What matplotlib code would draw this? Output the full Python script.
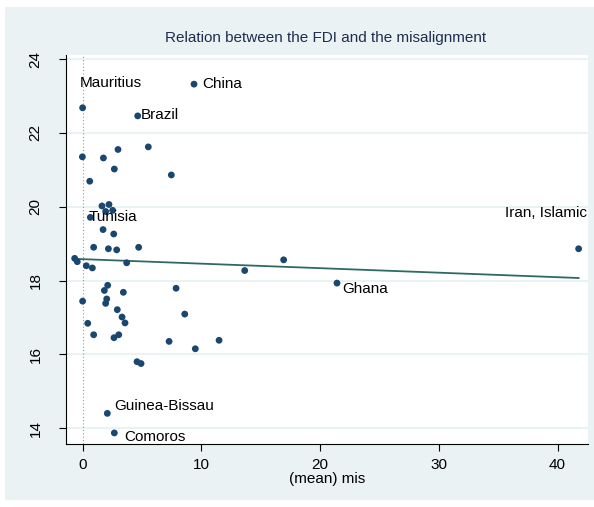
import numpy as np
import matplotlib.pyplot as plt
from matplotlib.patches import Rectangle

plt.rcParams["font.family"] = ["Liberation Sans", "DejaVu Sans"]

# (mean) misalignment and FDI
mis = [9.38, 0.0, 4.64, 5.53, 2.98, -0.02, 1.75, 2.67, 7.47, 0.6,
       1.63, 2.22, 1.94, 2.53, 0.65, 1.72, 2.62, 0.93, 2.17, 2.87,
       4.72, -0.67, -0.45, 0.31, 0.82, 3.71, 13.65, 2.11, 1.83, 7.87,
       3.43, 0.0, 2.03, 1.94, 2.92, 8.6, 3.32, 3.57, 0.43, 0.93,
       2.64, 3.04, 7.28, 9.49, 11.49, 4.58, 4.92, 2.08, 2.67, 16.93,
       21.42, 41.77]
fdi = [23.32, 22.68, 22.46, 21.62, 21.55, 21.35, 21.32, 21.02, 20.86, 20.69,
       20.02, 20.06, 19.87, 19.90, 19.71, 19.38, 19.26, 18.90, 18.86, 18.83,
       18.90, 18.60, 18.51, 18.40, 18.34, 18.48, 18.27, 17.87, 17.73, 17.79,
       17.68, 17.44, 17.50, 17.38, 17.21, 17.09, 17.01, 16.85, 16.84, 16.53,
       16.45, 16.53, 16.35, 16.15, 16.38, 15.80, 15.75, 14.40, 13.87, 18.56,
       17.93, 18.86]

# labelled countries: name, index of point, label offset (pt), alignment
labels = [
    ("China", 0, (6, 0), "left", "center"),
    ("Mauritius", 1, (-2, 18), "left", "center"),
    ("Brazil", 2, (2, 1), "left", "center"),
    ("Tunisia", 14, (-1, 0), "left", "center"),
    ("Iran, Islamic", 51, (6, 26), "right", "center"),
    ("Ghana", 50, (4, -4), "left", "center"),
    ("Guinea-Bissau", 47, (5, 5), "left", "center"),
    ("Comoros", 48, (7, -3), "left", "center"),
]

bg = "#eaf2f3"
navy = "#1a476f"
green = "#2d6b62"

fig = plt.figure(figsize=(5.94, 5.07), dpi=100, facecolor="white")
fig.patches.append(Rectangle((5 / 594, 7 / 507), 589 / 594, 493 / 507,
                             transform=fig.transFigure, facecolor=bg,
                             edgecolor="none", zorder=-10))
ax = fig.add_axes([66 / 594, 63 / 507, 522 / 594, 389 / 507])
ax.set_zorder(1)
ax.set_facecolor("white")

ax.set_xlim(-1.4, 42.56)
ax.set_ylim(13.57, 24.11)

ax.set_yticks([14, 16, 18, 20, 22, 24])
ax.set_xticks([0, 10, 20, 30, 40])
ax.grid(axis="y", color=bg, linewidth=1.5)
ax.set_axisbelow(True)

for s in ["top", "right"]:
    ax.spines[s].set_visible(False)
for s in ["left", "bottom"]:
    ax.spines[s].set_linewidth(0.8)

ax.tick_params(axis="both", direction="out", length=5, width=0.8,
               labelsize=11, colors="black")
ax.tick_params(axis="y", pad=12, labelrotation=90)
ax.tick_params(axis="x", pad=5)
plt.setp(ax.get_yticklabels(), ha="right", va="center")

# dotted reference line at zero
ax.axvline(0, color="#999999", linestyle=(0, (1, 2)), linewidth=0.8, zorder=1)

# linear fit
x = np.array(mis)
y = np.array(fdi)
b, a = np.polyfit(x, y, 1)
xs = np.array([x.min(), x.max()])
ax.plot(xs, a + b * xs, color=green, linewidth=1.3, zorder=2)

ax.scatter(x, y, s=24, color=navy, edgecolors="none", zorder=3)

for name, i, off, ha, va in labels:
    ax.annotate(name, (mis[i], fdi[i]), xytext=off, textcoords="offset points",
                ha=ha, va=va, fontsize=11, color="black", zorder=4)

ax.set_xlabel("(mean) mis", fontsize=11, labelpad=0)
fig.text(326 / 594, 1 - 38 / 507, "Relation between the FDI and the misalignment",
         ha="center", va="center", fontsize=11, color="#1e2d50")

fig.savefig("out.png", dpi=100, facecolor="white")
